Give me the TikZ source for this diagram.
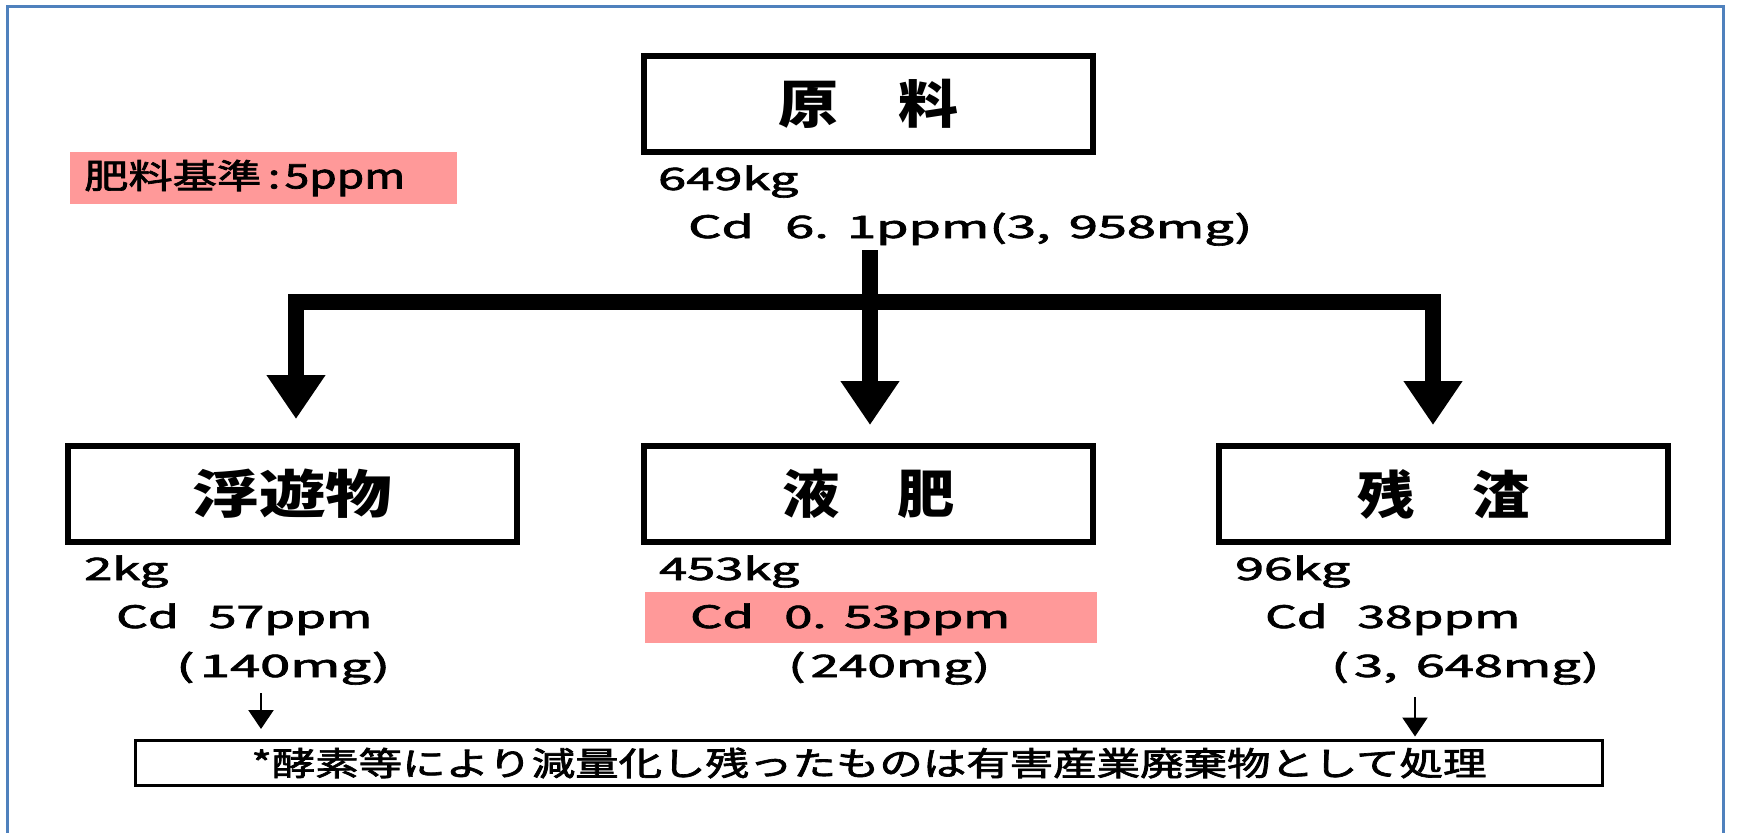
\documentclass[tikz,border=0pt]{standalone}
\usepackage{fontspec}
\setmainfont{Noto Sans CJK JP}
\newfontfamily\jpmed[FakeBold=2]{Noto Sans CJK JP}
\usepackage{graphicx}
\usetikzlibrary{arrows.meta}
\definecolor{frameblue}{RGB}{79,129,189}
\definecolor{hlpink}{RGB}{255,153,153}
\newcommand\fitw[2]{\resizebox{#1}{\height}{#2}}
\begin{document}
\begin{tikzpicture}[x=1bp,y=-1bp,
  titlebox/.style={draw, line width=6bp, minimum width=449bp, minimum height=96bp, inner sep=0pt,
    font=\fontsize{52}{60}\selectfont\bfseries},
  datatext/.style={anchor=base west, inner sep=0pt, font=\jpmed\fontsize{31}{36}\selectfont},
  notebox/.style={draw, line width=3bp, minimum width=1467bp, minimum height=45bp, inner sep=0pt,
    font=\jpmed\fontsize{33}{38}\selectfont},
  hlbox/.style={fill=hlpink, draw=none, inner sep=0pt, anchor=north west},
  bigflow/.style={line width=16bp, -{Triangle[length=44bp,width=56bp]}},
  smallflow/.style={line width=2.5bp, -{Triangle[length=19bp,width=25bp]}},
]
\useasboundingbox (0,0) rectangle (1740,833);
\fill[white] (0,0) rectangle (1740,833);
% frame
\draw[frameblue, line width=3bp] (7,833) -- (7,6) -- (1723,6) -- (1723,833);

% standard highlight
\node[hlbox, minimum width=387bp, minimum height=52bp] (stdbg) at (70,152) {};
\node[anchor=west, inner sep=0pt, font=\jpmed\fontsize{34}{40}\selectfont] (std) at (84,178)
  {\fitw{321bp}{肥料基準\hspace{.15em}:\hspace{.1em}5ppm}};

% top box
\node[titlebox] (genryo) at (868.5,104) {\fitw{180bp}{原　料}};
\node[datatext] (gkg) at (658,190) {\fitw{140bp}{649kg}};
\node[datatext] (gcd) at (688,238) {\fitw{564bp}{Cd\hspace{.6em}6.\hspace{.35em}1ppm(3,\hspace{.35em}958mg)}};

% lower boxes
\node[titlebox] (fuyu) at (292.5,494) {\fitw{200bp}{浮遊物}};
\node[titlebox] (ekihi) at (868.5,494) {\fitw{172bp}{液　肥}};
\node[titlebox] (zansa) at (1443.5,494) {\fitw{172bp}{残　渣}};

% left data
\node[datatext] (fkg) at (84,580) {\fitw{84bp}{2kg}};
\node[datatext] (fcd) at (116,628) {\fitw{256bp}{Cd\hspace{.6em}57ppm}};
\node[datatext] (fmg) at (176,677) {\fitw{214bp}{(\hspace{.1em}140mg)}};

% middle data
\node[datatext] (ekg) at (659,580) {\fitw{140bp}{453kg}};
\node[hlbox, minimum width=452bp, minimum height=51bp] (ebg) at (645,592) {};
\node[datatext] (ecd) at (690,628) {\fitw{320bp}{Cd\hspace{.6em}0.\hspace{.35em}53ppm}};
\node[datatext] (emg) at (788,677) {\fitw{202bp}{(\hspace{.1em}240mg)}};

% right data
\node[datatext] (zkg) at (1235,580) {\fitw{115bp}{96kg}};
\node[datatext] (zcd) at (1265,628) {\fitw{255bp}{Cd\hspace{.6em}38ppm}};
\node[datatext] (zmg) at (1331,677) {\fitw{268bp}{(\hspace{.1em}3,\hspace{.35em}648mg)}};

% note box
\node[notebox] (note) at (869,763) {\fitw{1235bp}{*酵素等により減量化し残ったものは有害産業廃棄物として処理}};

% thick flow
\coordinate (stemtop) at (870,250);
\coordinate (junc) at (870,302);
\draw[bigflow, shorten >=24bp] (junc) -| ([xshift=3.5bp]fuyu.north);
\draw[bigflow, shorten >=18bp] (stemtop) -- ([xshift=1.5bp]ekihi.north);
\draw[bigflow, shorten >=18bp] (junc) -| ([xshift=-10.5bp]zansa.north);

% small arrows
\coordinate (s1) at (261,693);
\coordinate (s2) at (1415,697);
\draw[smallflow, shorten >=10bp] (s1) -- (s1 |- note.north);
\draw[smallflow, shorten >=2.5bp] (s2) -- (s2 |- note.north);
\end{tikzpicture}
\end{document}
